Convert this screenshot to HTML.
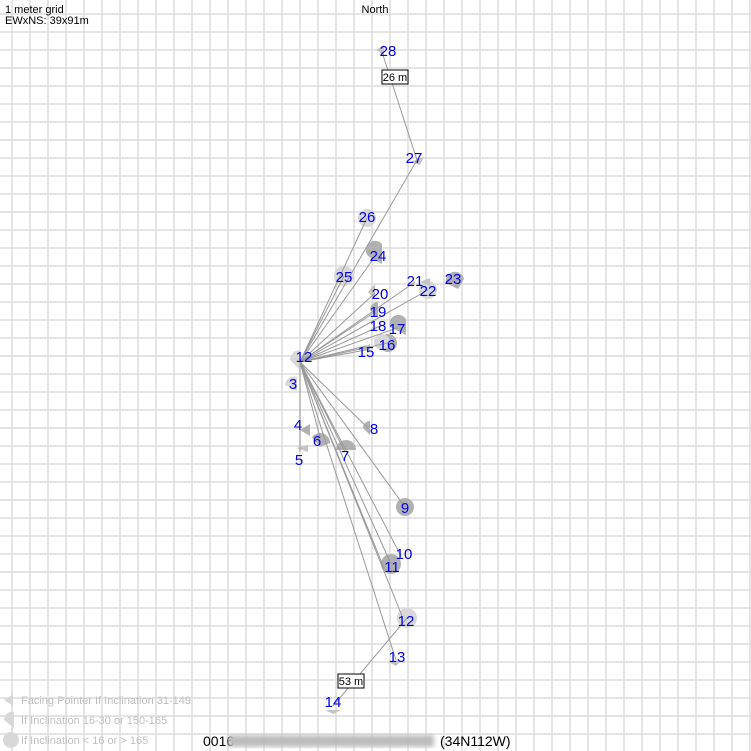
<!DOCTYPE html>
<html><head><meta charset="utf-8"><style>
body{margin:0;background:#fff;}
svg{display:block;font-family:"Liberation Sans",sans-serif;}
.l{fill:#0000ee;font-size:15px;text-anchor:middle;}
.g{fill:#c4c4c4}.d{fill:#b0b0b0}.p{fill:#d8d8d8}
.lg{fill:#c0c0c0;font-size:11px;}
</style></head><body>
<svg width="751" height="751" viewBox="0 0 751 751">
<defs>
<pattern id="gr" x="11" y="13" width="18" height="18" patternUnits="userSpaceOnUse">
<path d="M0 1 H18 M1 0 V18" stroke="#dcdcdc" stroke-width="1.5" fill="none"/>
</pattern>
<filter id="bl"><feGaussianBlur stdDeviation="2.5"/></filter>
</defs>
<rect x="0" y="0" width="751" height="751" fill="url(#gr)"/>
<text x="5" y="13" font-size="11">1 meter grid</text>
<text x="5" y="24" font-size="11">EWxNS: 39x91m</text>
<text x="375" y="13" font-size="11" text-anchor="middle">North</text>

<g>
<path class="g" d="M376 50 l8 -5 v10z"/>
<path class="g" d="M410 162 l14 -5 l-4 8z"/>
<circle class="p" cx="367" cy="218" r="9"/>
<path class="d" d="M368 256 a9 9 0 0 1 14 -12 l0 20z"/>
<circle class="p" cx="344" cy="276" r="10"/>
<path class="g" d="M368 292 l7 -8 v16z"/>
<path class="d" d="M370 310 a8 8 0 0 1 8 -8 v16z"/>
<path class="d" d="M390 327 a9 9 0 0 1 16 -8 v16z"/>
<circle class="d" cx="388" cy="343" r="9"/>
<circle class="p" cx="382" cy="342" r="8"/>
<path class="g" d="M360 348 l10 -4 v8z"/>
<circle class="p" cx="428" cy="290" r="9"/>
<path class="g" d="M420 282 l10 -4 v8z"/>
<path class="d" d="M446 283 a9 9 0 0 1 18 -4 l-6 10z"/>
<path class="p" d="M290 360 a10 10 0 0 1 10 -10 v20z"/>
<path class="p" d="M285 385 a9 9 0 0 1 12 -8 v14z"/>
<path class="d" d="M300 430 l10 -6 v12z"/>
<path class="d" d="M312 437 a10 10 0 0 1 18 6 l-10 4z"/>
<path class="g" d="M296 448 l12 -3 v7z"/>
<path class="d" d="M336 450 a10 10 0 0 1 20 0z"/>
<path class="d" d="M363 428 a7 7 0 0 1 7 -7 v14z"/>
<circle class="d" cx="405" cy="507" r="9"/>
<circle class="d" cx="391" cy="564" r="10"/>
<circle class="p" cx="407" cy="618" r="10"/>
<path class="g" d="M388 662 l14 -2 l-6 6z"/>
<path class="g" d="M325 710 l16 0 l-8 4z"/>
</g>

<g stroke="#999" stroke-width="1" fill="none">
<path d="M300 362 L417 160 L382 52"/>
<path d="M300 362 L367 218"/>
<path d="M300 362 L376 255"/>
<path d="M300 362 L344 276"/>
<path d="M300 362 L375 293"/>
<path d="M300 362 L415 282"/>
<path d="M300 362 L428 290"/>
<path d="M300 362 L375 312"/>
<path d="M300 362 L380 326"/>
<path d="M300 362 L397 328"/>
<path d="M300 362 L388 343"/>
<path d="M300 362 L366 350"/>
<path d="M300 362 L366 346"/>
<path d="M300 362 L300 452"/>
<path d="M300 362 L320 437"/>
<path d="M300 362 L345 452"/>
<path d="M300 362 L368 428"/>
<path d="M300 362 L405 507"/>
<path d="M300 362 L401 556"/>
<path d="M300 362 L391 564"/>
<path d="M300 362 L384 568"/>
<path d="M300 362 L402 616"/>
<path d="M300 362 L396 660"/>
<path d="M407 618 L333 706"/>
</g>
<rect x="382" y="70" width="26" height="14" fill="#fff" stroke="#000"/>
<text x="395" y="81" font-size="11" text-anchor="middle">26 m</text>
<rect x="338" y="674" width="26" height="14" fill="#fff" stroke="#000"/>
<text x="351" y="685" font-size="11" text-anchor="middle">53 m</text>

<g class="l">
<text x="388" y="56">28</text>
<text x="414" y="163">27</text>
<text x="367" y="222">26</text>
<text x="378" y="261">24</text>
<text x="344" y="282">25</text>
<text x="380" y="299">20</text>
<text x="415" y="286">21</text>
<text x="428" y="296">22</text>
<text x="453" y="284">23</text>
<text x="378" y="317">19</text>
<text x="378" y="331">18</text>
<text x="397" y="334">17</text>
<text x="387" y="350">16</text>
<text x="366" y="357">15</text>
<text x="304" y="362">12</text>
<text x="293" y="389">3</text>
<text x="298" y="430">4</text>
<text x="317" y="446">6</text>
<text x="299" y="465">5</text>
<text x="345" y="461">7</text>
<text x="374" y="434">8</text>
<text x="405" y="513">9</text>
<text x="404" y="559">10</text>
<text x="392" y="572">11</text>
<text x="406" y="626">12</text>
<text x="397" y="662">13</text>
<text x="333" y="707">14</text>
</g>

<path class="p" d="M4 700 l8 -5 v10z"/><rect x="11" y="694" width="2" height="12" class="p"/>
<path class="p" d="M4 720 a8 8 0 0 1 10 -8 v16z"/>
<circle class="p" cx="11" cy="740" r="8"/>
<text class="lg" x="21" y="704">Facing Pointer If Inclination 31-149</text>
<text class="lg" x="21" y="724">If Inclination 16-30 or 150-165</text>
<text class="lg" x="21" y="744">If Inclination &lt; 16 or &gt; 165</text>

<text x="203" y="746" font-size="14">0016</text>
<rect x="228" y="735" width="206" height="12" fill="#bdbdbd" filter="url(#bl)"/>
<text x="440" y="746" font-size="14">(34N112W)</text>
</svg>
</body></html>
